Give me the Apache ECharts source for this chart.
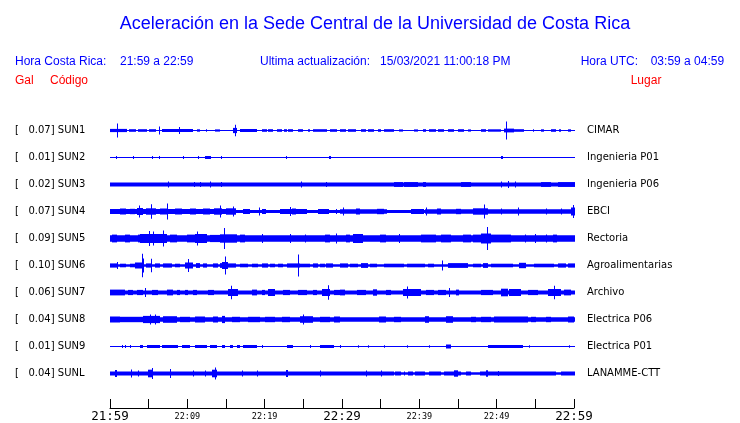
<!DOCTYPE html>
<html>
<head>
<meta charset="utf-8">
<script src="https://cdn.jsdelivr.net/npm/echarts@6/dist/echarts.min.js"></script>
<style>html,body{margin:0;padding:0;background:#fff;}#c{width:740px;height:423px;}</style>
</head>
<body>
<div id="c"></div>
<script>
// ---- data ----
const codes = ['SUN1','SUN2','SUN3','SUN4','SUN5','SUN6','SUN7','SUN8','SUN9','SUNL'];
const places = ['CIMAR','Ingenieria P01','Ingenieria P06','EBCI','Rectoria','Agroalimentarias','Archivo','Electrica P06','Electrica P01','LANAMME-CTT'];
const galValues = ['0.07','0.01','0.02','0.07','0.09','0.10','0.06','0.04','0.01','0.04'];
// background (noise) half-amplitude of each trace
const baseLevels = [0.5, 0.5, 2.0, 1.5, 3.2, 1.2, 2.0, 2.2, 0.5, 1.2];
// events: [startMinute, endMinute, halfAmplitude] or spike [minute, halfAmplitude]
const sun1 = [[0,2.2,1.6],[0.95,7],[2.46,3.36,1.3],[3.62,4.78,1.3],[5.04,5.95,1.3],[6.3,4],[6.68,10.77,1.5],[8.96,3.5],[11.25,11.64,1.2],[12.4,12.5,1.2],[13.6,14.2,1.1],[15.87,16.38,2.6],[16.07,5.7],[16.81,18.97,1.5],[19.65,20.3,1.3],[20.43,21.07,1.3],[21.6,22.24,1.3],[22.5,22.9,1.3],[23.0,23.66,1.3],[24.2,24.95,1.3],[25.5,25.86,1.3],[26.25,28.06,1.3],[28.45,29.35,1.3],[29.74,30.4,1.3],[30.65,31.68,1.3],[32.33,32.97,1.3],[33.23,34.0,1.3],[34.52,34.91,1.3],[35.3,36.6,1.3],[37.24,37.76,1.1],[39.18,39.7,1.1],[40.35,40.73,1.3],[41.1,42.0,1.3],[42.3,43.05,1.3],[43.6,44.4,1.3],[44.9,45.65,1.3],[46.15,46.55,1.1],[47.84,48.5,1.3],[48.75,50.43,1.2],[50.8,52.1,1.9],[51.1,9],[52.1,53.4,1.3],[54.55,54.7,1.2],[55.6,56.0,1.2],[56.9,57.5,1.3],[57.9,58.2,1.2],[59.1,59.48,1.2]];
const sun2 = [[0.78,1.5],[2.97,1.5],[5.47,1.5],[6.27,1.5],[9.37,1.5],[11.34,1.5],[12.3,13.0,1.5],[14.35,1.5],[22.76,1.5],[28.2,1.5],[28.45,1.5],[50.4,50.7,1.5]];
const sun3 = [[7.46,3],[10.86,2.5],[11.64,2.5],[12.93,3],[14.35,2.5],[24.7,3],[27.84,2.5],[36.6,37.76,2.4],[37.9,39.7,2.4],[40.35,40.73,2.4],[45.26,46.55,2.4],[50.43,3],[51.3,3.5],[52.24,3],[55.6,56.9,2.4],[57.8,60,2.4]];
const sun4 = [[0,16.2,2.5],[1.3,2.07,3],[2.6,3.2,2.7],[3.5,4.27,3.5],[3.79,6],[4.65,5.95,3.2],[5.3,7.3],[6.47,7.5,3],[7.33,8],[8.4,9.3,3],[10.34,11.1,3],[12.0,12.93,3],[13.4,14.5,3.2],[14.22,6],[15.0,16.3,3.2],[15.87,5],[17.2,18.1,2.5],[19.27,4],[19.65,20.17,2.5],[21.98,25.47,2.5],[23.5,24.05,3],[23.28,4.5],[26.9,28.2,2.5],[29.1,29.2,2.5],[29.74,35.8,2.3],[30.0,4],[31.7,32.3,3],[34.5,35.3,2.7],[38.8,40.5,2.5],[40.73,4],[40.7,46.9,2.3],[42.15,42.67,3],[44.6,45.26,2.7],[46.9,48.75,3.2],[48.27,7],[48.75,59.5,2.2],[50.4,3],[52.6,4],[56.2,3],[58.2,3],[59.5,60,4],[59.74,6.5]];
const sun5 = [[0.26,0.9,3.9],[1.94,2.6,3.9],[3.6,4.27,3.9],[3.88,7.37,4.5],[5.04,7.5],[5.56,7],[6.9,8],[7.76,8.66,3.9],[9.96,11.64,3.9],[11.0,12.54,4.5],[11.25,7],[12.93,14.22,3.6],[14.22,16.42,4.2],[14.65,10.5],[16.81,17.46,3.9],[19.65,4.5],[23.28,4.5],[25.2,4],[27.8,28.45,3.9],[29.1,5],[30.4,31.0,3.9],[31.3,32.7,4.5],[34.9,35.55,3.9],[37.24,4.5],[40.1,42.0,3.9],[42.67,43.97,3.9],[45.5,46.55,3.9],[46.9,50.43,3.9],[47.84,49.14,5],[48.6,11.5],[50.43,51.72,3.9],[53.6,4],[54.9,4.5],[56.2,4],[57.1,57.7,3.9]];
const sun6 = [[0,1.0,2.1],[0.87,3.5],[1.3,2.07,1.8],[2.6,3.2,1.8],[3.2,4.27,3],[4.1,11.7],[4.3,7],[4.65,5.43,2.1],[5.26,6.7],[5.8,6.47,2.1],[6.85,8.0,2.1],[8.4,9.05,1.8],[9.7,10.7,3],[10.12,6.5],[11.1,11.64,2.4],[12.0,12.54,2.1],[13.3,13.96,2.1],[14.22,15.0,2.4],[14.5,15.25,3.5],[14.87,9],[15.25,16.2,2.1],[16.8,17.8,1.8],[18.36,19.1,1.8],[19.65,20.43,2.1],[20.7,21.3,1.8],[21.7,22.37,1.8],[22.9,24.57,2.1],[24.2,11],[24.57,25.86,1.8],[26.25,26.9,2.1],[27.16,27.8,1.8],[27.9,28.8,2.1],[29.74,30.65,2.1],[31.0,31.94,1.8],[32.33,33.23,2.4],[33.6,34.5,1.8],[35.3,37.9,1.8],[38.3,40.7,1.8],[41.0,41.8,1.8],[42.8,5],[43.6,46.2,2.4],[46.9,47.84,1.8],[48.1,48.75,2.4],[49.14,52.0,1.8],[52.76,53.7,2.7],[54.7,57.3,1.8],[57.8,58.8,2.1],[59.1,60,2.1]];
const sun7 = [[0,1.94,2.9],[2.3,3.0,2.6],[3.5,4.27,2.6],[4.5,4.5],[5.43,6.2,2.6],[7.37,8.15,2.9],[8.66,9.05,2.6],[9.7,10.1,2.6],[10.73,11.25,2.6],[12.67,13.45,2.6],[15.25,16.55,3.5],[15.6,6.7],[18.36,19.0,2.9],[19.65,20.0,2.6],[20.43,21.33,3.5],[22.37,23.28,2.6],[24.2,25.47,2.6],[26.25,26.77,2.6],[27.4,28.45,3.5],[28.15,7.3],[28.84,29.74,2.6],[29.74,30.26,2.9],[31.9,32.97,2.6],[33.9,34.5,3.2],[35.55,36.2,2.6],[37.76,40.09,3.5],[38.37,6],[40.73,41.8,2.6],[42.3,43.3,2.6],[43.7,4.5],[44.6,45.0,2.9],[47.84,49.4,2.6],[50.43,51.33,3.8],[51.46,53.0,3.5],[53.9,55.2,2.6],[56.5,58.2,3.5],[57.28,6.7],[58.6,59.48,2.9]];
const sun8 = [[0,1.29,3],[1.29,4.27,2.7],[4.27,6.47,3.6],[5.17,5],[5.8,5],[6.85,8.66,3.3],[9.05,10.34,2.7],[11.0,12.3,3],[13.3,13.96,3],[14.5,14.87,3.6],[15.8,16.8,2.7],[17.8,19.4,2.7],[20.0,21.33,2.7],[22.24,23.28,2.7],[24.57,26.25,3.3],[24.95,5],[27.16,28.45,2.7],[28.84,29.74,3],[34.65,35.55,3],[36.6,37.5,2.7],[40.6,41.1,3.3],[43.3,44.2,3.3],[46.55,47.2,2.7],[47.84,49.14,2.7],[49.5,53.9,3],[54.3,54.95,2.7],[56.2,56.9,2.7],[59.1,59.9,3]];
const sun9 = [[1.55,1.5],[1.94,1.5],[2.59,1.5],[3.88,4.27,1.5],[4.78,6.47,1.5],[6.72,8.8,1.5],[9.3,10.34,1.5],[11.0,12.54,1.5],[12.93,13.84,1.5],[14.5,14.87,1.5],[15.52,15.9,1.5],[16.4,16.8,1.5],[17.2,19.0,1.5],[19.65,19.8,1.5],[22.9,23.66,1.5],[25.86,1.5],[27.16,28.84,1.5],[29.74,1.5],[31.94,1.3],[33.23,1.3],[35.3,1.3],[38.27,1.3],[41.1,1.3],[43.3,43.97,2],[48.75,53.3,1.5],[54.05,1.3],[59.2,1.3]];
const sunL = [[0,36.6,2],[0.65,0.9,3.5],[2.68,4],[3.62,3],[4.91,5.56,3.8],[5.4,5.5],[7.76,4.5],[10.73,3],[12.28,3],[13.2,13.84,3.8],[13.58,6],[17.03,3],[18.97,3],[22.76,23.0,3.5],[27.16,3],[32.97,3],[34.91,3],[36.8,37.5,2],[37.9,38.1,2],[38.5,39.05,2],[39.4,40.7,2],[41.1,42.67,2],[43.05,45.26,2],[44.35,44.87,3.2],[45.9,46.55,2],[47.8,57.6,2],[48.5,48.75,3.2],[50.0,2.5],[58.2,60,2]];
const traceEvents = [sun1, sun2, sun3, sun4, sun5, sun6, sun7, sun8, sun9, sunL];
// time axis tick labels (every 5 minutes from 21:59)
const tickLabels = ['21:59','','22:09','','22:19','','22:29','','22:39','','22:49','','22:59'];
const bigTicks = ['21:59','22:29','22:59'];
// header texts
const titleText = 'Aceleración en la Sede Central de la Universidad de Costa Rica';
const crLabel = 'Hora Costa Rica:', crRange = '21:59 a 22:59';
const updLabel = 'Ultima actualización:', updValue = '15/03/2021 11:00:18 PM';
const utcLabel = 'Hora UTC:', utcRange = '03:59 a 04:59';

// ---- build ----
const ROW = 27;
const nTr = codes.length;
const segs = [];
traceEvents.forEach((ev, i) => {
  segs.push([0, 60, baseLevels[i], i]);
  ev.forEach(e => {
    if (e.length === 2) segs.push([e[0], e[0], e[1], i]);
    else segs.push([e[0], e[1], e[2], i]);
  });
});

const chart = echarts.init(document.getElementById('c'), null, {renderer: 'canvas'});
const blue = '#0000ff', red = '#ff0000';
const hfont = (s) => s + 'px "Liberation Sans", Arial, sans-serif';

chart.setOption({
  animation: false,
  backgroundColor: '#fff',
  grid: [
    {left: 110, right: 165, top: 117, height: 270},
    {left: 110, right: 166, top: 400, height: 9}
  ],
  xAxis: [
    {gridIndex: 0, type: 'value', min: 0, max: 60, show: false},
    {gridIndex: 1, type: 'value', min: 0, max: 60, interval: 5,
     axisLine: {show: true, lineStyle: {color: '#000', width: 1}},
     axisTick: {show: true, inside: true, length: 9, lineStyle: {color: '#000', width: 1}},
     splitLine: {show: false},
     axisLabel: {
       margin: 2, showMinLabel: true, showMaxLabel: true, hideOverlap: false,
       formatter: (v) => {
         const s = tickLabels[Math.round(v / 5)];
         if (!s) return '';
         return bigTicks.indexOf(s) >= 0 ? '{b|' + s + '}' : '{s|' + s + '}';
       },
       rich: {
         b: {fontFamily: '"DejaVu Sans Mono", monospace', fontSize: 12.5, color: '#000'},
         s: {fontFamily: '"DejaVu Sans Mono", monospace', fontSize: 8.5, color: '#000', padding: [2, 0, 0, 0]}
       }
     }}
  ],
  yAxis: [
    {gridIndex: 0, type: 'value', min: -ROW / 2, max: ROW * (nTr - 0.5), show: false},
    {gridIndex: 0, type: 'category', inverse: true, position: 'left',
     data: codes.map((c, i) => '[   ' + galValues[i] + '] ' + c),
     axisLine: {show: false}, axisTick: {show: false}, splitLine: {show: false},
     axisLabel: {interval: 0, align: 'left', margin: 95, color: '#000', fontFamily: '"DejaVu Sans", sans-serif', fontSize: 10}},
    {gridIndex: 0, type: 'category', inverse: true, position: 'right',
     data: places,
     axisLine: {show: false}, axisTick: {show: false}, splitLine: {show: false},
     axisLabel: {interval: 0, align: 'left', margin: 12, color: '#000', fontFamily: '"DejaVu Sans", sans-serif', fontSize: 10}},
    {gridIndex: 1, type: 'value', min: 0, max: 1, show: false}
  ],
  graphic: [
    {type: 'text', x: 375, y: 24, style: {text: titleText, font: hfont(18), fill: blue, textAlign: 'center', textVerticalAlign: 'middle'}},
    {type: 'text', x: 15, y: 62, style: {text: crLabel, font: hfont(12), fill: blue, textAlign: 'left', textVerticalAlign: 'middle'}},
    {type: 'text', x: 120, y: 62, style: {text: crRange, font: hfont(12), fill: blue, textAlign: 'left', textVerticalAlign: 'middle'}},
    {type: 'text', x: 260, y: 62, style: {text: updLabel, font: hfont(12), fill: blue, textAlign: 'left', textVerticalAlign: 'middle'}},
    {type: 'text', x: 380, y: 62, style: {text: updValue, font: hfont(12), fill: blue, textAlign: 'left', textVerticalAlign: 'middle'}},
    {type: 'text', x: 580.7, y: 62, style: {text: utcLabel, font: hfont(12), fill: blue, textAlign: 'left', textVerticalAlign: 'middle'}},
    {type: 'text', x: 650.7, y: 62, style: {text: utcRange, font: hfont(12), fill: blue, textAlign: 'left', textVerticalAlign: 'middle'}},
    {type: 'text', x: 15, y: 81, style: {text: 'Gal', font: hfont(12), fill: red, textAlign: 'left', textVerticalAlign: 'middle'}},
    {type: 'text', x: 50, y: 81, style: {text: 'Código', font: hfont(12), fill: red, textAlign: 'left', textVerticalAlign: 'middle'}},
    {type: 'text', x: 630.7, y: 81, style: {text: 'Lugar', font: hfont(12), fill: red, textAlign: 'left', textVerticalAlign: 'middle'}}
  ],
  series: [{
    type: 'custom',
    xAxisIndex: 0, yAxisIndex: 0,
    data: segs,
    encode: {x: [0, 1], y: 2},
    silent: true,
    clip: false,
    renderItem: (params, api) => {
      const t0 = api.value(0), t1 = api.value(1), a = api.value(2), idx = api.value(3);
      const off = (nTr - 1 - idx) * ROW;
      const p0 = api.coord([t0, off + a]);
      const p1 = api.coord([t1, off - a]);
      let x0 = Math.round(p0[0]);
      let x1 = Math.round(p1[0]);
      if (x1 - x0 < 1) x1 = x0 + 1;
      const h = Math.max(p1[1] - p0[1], 1);
      return {type: 'rect', shape: {x: x0, y: p0[1], width: x1 - x0, height: h}, style: {fill: blue}};
    }
  }]
});
</script>
</body>
</html>
